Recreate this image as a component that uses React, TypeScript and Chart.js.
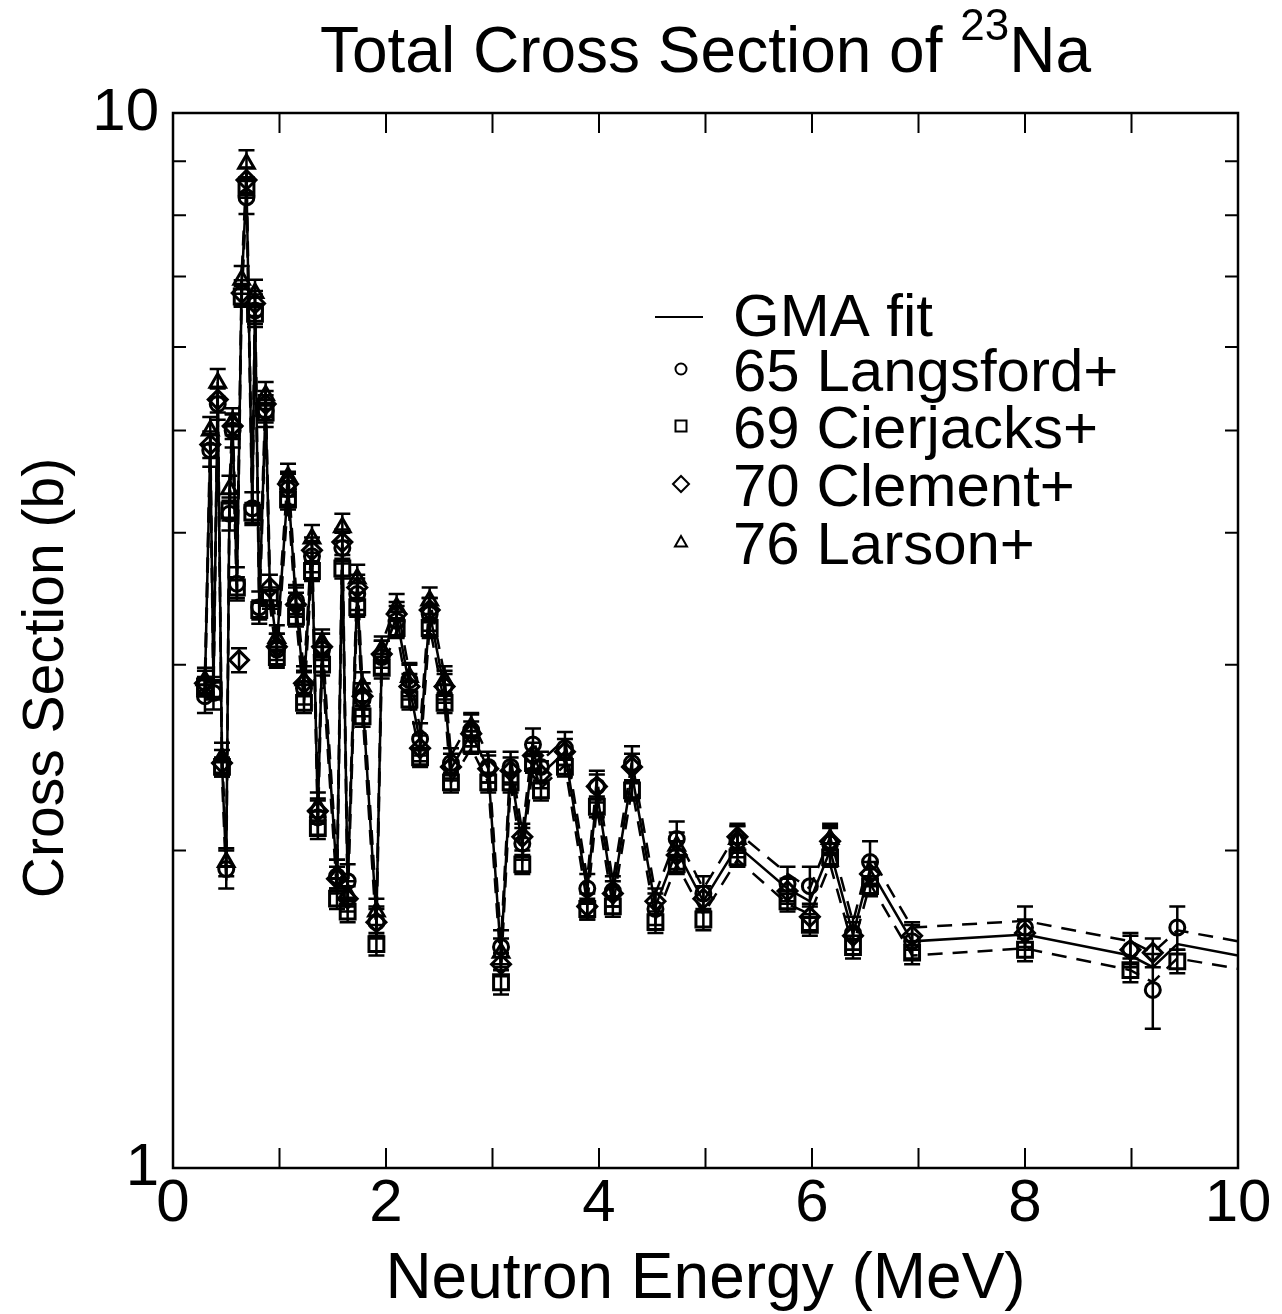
import { useEffect, useRef } from 'react';
import { Chart, registerables } from 'chart.js';

Chart.register(...registerables);

type Pt = [number, number, number]; // [energy MeV, cross section b, uncertainty b]

// GMA evaluation nodes: energy, fitted cross section, upper / lower uncertainty band
const fitEnergy = [
  0.3, 0.35, 0.38, 0.42, 0.46, 0.5, 0.53, 0.56, 0.6, 0.645, 0.69, 0.745, 0.77, 0.81, 0.87, 0.91,
  0.975, 1.08, 1.155, 1.23, 1.305, 1.36, 1.4, 1.54, 1.59, 1.64, 1.73, 1.78, 1.91, 1.96, 2.1, 2.22,
  2.32, 2.41, 2.55, 2.61, 2.8, 2.96, 3.08, 3.17, 3.28, 3.38, 3.455, 3.68, 3.89, 3.98, 4.13, 4.31,
  4.53, 4.73, 4.98, 5.3, 5.77, 5.98, 6.17, 6.385, 6.545, 6.94, 8.0, 8.99, 9.2, 9.43, 10.0,
];
const fitSigma = [
  2.87, 4.85, 2.86, 5.4, 2.42, 1.92, 4.3, 5.05, 3.57, 6.85, 8.6, 4.21, 6.62, 3.42, 5.3, 3.53,
  3.13, 4.44, 3.43, 2.85, 3.85, 2.16, 3.1, 1.88, 3.9, 1.84, 3.53, 2.78, 1.72, 3.05, 3.33, 2.86,
  2.53, 3.36, 2.84, 2.39, 2.58, 2.39, 1.59, 2.38, 2.02, 2.48, 2.36, 2.48, 1.83, 2.27, 1.82, 2.36,
  1.77, 2.0, 1.79, 2.02, 1.84, 1.79, 2.0, 1.665, 1.92, 1.64, 1.665, 1.59, 1.55, 1.63, 1.59,
];
const fitUpper = [
  2.95, 4.99, 2.94, 5.56, 2.49, 1.98, 4.43, 5.2, 3.68, 7.05, 8.86, 4.34, 6.82, 3.52, 5.46, 3.64,
  3.22, 4.57, 3.53, 2.94, 3.97, 2.22, 3.19, 1.94, 4.02, 1.9, 3.64, 2.86, 1.77, 3.14, 3.43, 2.95,
  2.61, 3.46, 2.93, 2.46, 2.66, 2.46, 1.64, 2.45, 2.08, 2.55, 2.43, 2.55, 1.88, 2.34, 1.87, 2.43,
  1.82, 2.06, 1.84, 2.08, 1.9, 1.84, 2.06, 1.71, 1.98, 1.69, 1.715, 1.64, 1.6, 1.68, 1.64,
];
const fitLower = [
  2.79, 4.71, 2.78, 5.24, 2.35, 1.86, 4.17, 4.9, 3.46, 6.65, 8.34, 4.08, 6.42, 3.32, 5.14, 3.42,
  3.04, 4.31, 3.33, 2.76, 3.73, 2.1, 3.01, 1.82, 3.78, 1.78, 3.42, 2.7, 1.67, 2.96, 3.23, 2.77,
  2.45, 3.26, 2.75, 2.32, 2.5, 2.32, 1.54, 2.31, 1.96, 2.41, 2.29, 2.41, 1.78, 2.2, 1.77, 2.29,
  1.72, 1.94, 1.74, 1.96, 1.78, 1.74, 1.94, 1.62, 1.86, 1.59, 1.615, 1.54, 1.5, 1.58, 1.545,
];

const langsford65: Pt[] = [
  [0.3, 2.8, 0.1], [0.35, 4.79, 0.17], [0.38, 2.82, 0.1], [0.42, 5.3, 0.18], [0.5, 1.92, 0.08],
  [0.53, 4.17, 0.15], [0.56, 5.0, 0.18], [0.6, 3.58, 0.13], [0.69, 8.32, 0.3], [0.745, 4.22, 0.15],
  [0.77, 6.5, 0.23], [0.81, 3.4, 0.12], [0.87, 5.22, 0.18], [0.975, 3.1, 0.11], [1.08, 4.4, 0.15],
  [1.155, 3.45, 0.12], [1.23, 2.85, 0.1], [1.305, 3.8, 0.13], [1.36, 2.15, 0.08], [1.4, 3.1, 0.11],
  [1.54, 1.89, 0.07], [1.59, 3.87, 0.13], [1.64, 1.87, 0.07], [1.73, 3.5, 0.12], [1.78, 2.78, 0.1],
  [1.91, 1.71, 0.06], [1.96, 3.05, 0.11], [2.1, 3.3, 0.11], [2.22, 2.9, 0.1], [2.32, 2.55, 0.09],
  [2.41, 3.35, 0.12], [2.55, 2.86, 0.1], [2.61, 2.42, 0.08], [2.8, 2.6, 0.09], [2.96, 2.4, 0.08],
  [3.08, 1.62, 0.06], [3.17, 2.4, 0.08], [3.28, 2.03, 0.07], [3.38, 2.52, 0.09], [3.455, 2.4, 0.08],
  [3.68, 2.5, 0.09], [3.89, 1.84, 0.06], [3.98, 2.3, 0.08], [4.13, 1.83, 0.06], [4.31, 2.42, 0.09],
  [4.53, 1.76, 0.06], [4.73, 2.05, 0.08], [4.98, 1.82, 0.07], [5.3, 2.04, 0.07], [5.77, 1.86, 0.07],
  [5.98, 1.85, 0.08], [6.17, 2.03, 0.09], [6.385, 1.67, 0.06], [6.545, 1.95, 0.09], [6.94, 1.64, 0.06],
  [8.0, 1.69, 0.08], [8.99, 1.61, 0.06], [9.2, 1.475, 0.12], [9.43, 1.69, 0.08],
];

const cierjacks69: Pt[] = [
  [0.3, 2.86, 0.06], [0.38, 2.84, 0.06], [0.46, 2.4, 0.05], [0.53, 4.2, 0.09], [0.6, 3.55, 0.08],
  [0.645, 6.7, 0.15], [0.69, 8.5, 0.19], [0.745, 4.18, 0.09], [0.77, 6.45, 0.14], [0.81, 3.38, 0.07],
  [0.87, 5.2, 0.11], [0.91, 3.47, 0.08], [0.975, 3.05, 0.07], [1.08, 4.3, 0.09], [1.155, 3.33, 0.07],
  [1.23, 2.76, 0.06], [1.305, 3.68, 0.08], [1.36, 2.1, 0.05], [1.4, 3.0, 0.07], [1.54, 1.8, 0.04],
  [1.59, 3.7, 0.08], [1.64, 1.75, 0.04], [1.73, 3.4, 0.07], [1.78, 2.68, 0.06], [1.91, 1.63, 0.04],
  [1.96, 2.98, 0.07], [2.1, 3.25, 0.07], [2.22, 2.78, 0.06], [2.32, 2.45, 0.05], [2.41, 3.25, 0.07],
  [2.55, 2.76, 0.06], [2.61, 2.32, 0.05], [2.8, 2.52, 0.05], [2.96, 2.32, 0.05], [3.08, 1.5, 0.04],
  [3.17, 2.32, 0.05], [3.28, 1.94, 0.04], [3.38, 2.42, 0.05], [3.455, 2.28, 0.05], [3.68, 2.4, 0.05],
  [3.89, 1.76, 0.04], [3.98, 2.2, 0.05], [4.13, 1.77, 0.04], [4.31, 2.28, 0.05], [4.53, 1.71, 0.04],
  [4.73, 1.94, 0.04], [4.98, 1.72, 0.04], [5.3, 1.97, 0.04], [5.77, 1.79, 0.04], [5.98, 1.7, 0.04],
  [6.17, 1.97, 0.04], [6.385, 1.62, 0.04], [6.545, 1.85, 0.04], [6.94, 1.6, 0.04], [8.0, 1.61, 0.04],
  [8.99, 1.54, 0.04], [9.43, 1.57, 0.04],
];

const clement70: Pt[] = [
  [0.3, 2.88, 0.08], [0.35, 4.85, 0.14], [0.42, 5.35, 0.15], [0.46, 2.42, 0.07], [0.56, 5.05, 0.14],
  [0.62, 3.03, 0.08], [0.645, 6.75, 0.19], [0.69, 8.64, 0.24], [0.77, 6.6, 0.18], [0.87, 5.3, 0.15],
  [0.91, 3.55, 0.1], [0.975, 3.12, 0.09], [1.08, 4.45, 0.12], [1.155, 3.42, 0.09], [1.23, 2.88, 0.08],
  [1.305, 3.85, 0.11], [1.36, 2.18, 0.06], [1.4, 3.12, 0.09], [1.54, 1.88, 0.05], [1.59, 3.92, 0.11],
  [1.64, 1.8, 0.05], [1.73, 3.55, 0.1], [1.78, 2.8, 0.08], [1.91, 1.71, 0.05], [1.96, 3.07, 0.09],
  [2.1, 3.35, 0.09], [2.22, 2.86, 0.08], [2.32, 2.5, 0.07], [2.41, 3.38, 0.09], [2.55, 2.86, 0.08],
  [2.61, 2.4, 0.07], [2.8, 2.58, 0.07], [2.96, 2.39, 0.07], [3.08, 1.56, 0.04], [3.17, 2.38, 0.07],
  [3.28, 2.06, 0.06], [3.38, 2.46, 0.07], [3.455, 2.36, 0.07], [3.68, 2.48, 0.07], [3.89, 1.77, 0.05],
  [3.98, 2.3, 0.06], [4.13, 1.82, 0.05], [4.31, 2.4, 0.07], [4.53, 1.79, 0.05], [4.73, 1.98, 0.06],
  [4.98, 1.8, 0.05], [5.3, 2.06, 0.06], [5.77, 1.83, 0.05], [5.98, 1.73, 0.05], [6.17, 2.04, 0.06],
  [6.385, 1.66, 0.05], [6.545, 1.9, 0.05], [6.94, 1.66, 0.05], [8.0, 1.67, 0.05], [8.99, 1.61, 0.05],
  [9.2, 1.6, 0.05],
];

const larson76: Pt[] = [
  [0.3, 2.9, 0.08], [0.35, 5.0, 0.15], [0.42, 5.55, 0.17], [0.46, 2.45, 0.08], [0.5, 1.95, 0.06],
  [0.53, 4.4, 0.13], [0.56, 5.1, 0.15], [0.645, 6.95, 0.21], [0.69, 8.95, 0.27], [0.77, 6.75, 0.2],
  [0.87, 5.4, 0.16], [0.975, 3.18, 0.09], [1.08, 4.52, 0.13], [1.155, 3.45, 0.1], [1.23, 2.9, 0.09],
  [1.305, 3.95, 0.12], [1.36, 2.2, 0.07], [1.4, 3.15, 0.09], [1.54, 1.9, 0.06], [1.59, 4.05, 0.12],
  [1.64, 1.82, 0.05], [1.73, 3.62, 0.11], [1.78, 2.86, 0.09], [1.91, 1.75, 0.05], [1.96, 3.1, 0.09],
  [2.1, 3.4, 0.1], [2.22, 2.92, 0.09], [2.41, 3.45, 0.1], [2.55, 2.9, 0.09], [2.8, 2.62, 0.08],
  [3.08, 1.6, 0.05], [4.73, 2.02, 0.06], [5.3, 2.05, 0.06], [6.17, 2.05, 0.06],
];

// Axis ticks
const xTickValues = [0, 1, 2, 3, 4, 5, 6, 7, 8, 9, 10];
const xLabelValues = [0, 2, 4, 6, 8, 10];
const yMinorValues = [2, 3, 4, 5, 6, 7, 8, 9];
const yLabelValues = [1, 10];

const titleText = 'Total Cross Section of ';
const titleSup = '23';
const titleNuclide = 'Na';
const xTitle = 'Neutron Energy (MeV)';
const yTitle = 'Cross Section (b)';
const fitLabel = 'GMA fit';

const FONT = '"Liberation Sans", Arial, Helvetica, sans-serif';

const experiments = [
  { label: '65 Langsford+', data: langsford65, style: 'circle', radius: 7.5 },
  { label: '69 Cierjacks+', data: cierjacks69, style: 'rect', radius: 10.5 },
  { label: '70 Clement+', data: clement70, style: 'rectRot', radius: 9.5 },
  { label: '76 Larson+', data: larson76, style: 'triangle', radius: 9 },
];

function drawLegendMarker(ctx: CanvasRenderingContext2D, style: string, x: number, y: number) {
  ctx.beginPath();
  if (style === 'circle') {
    ctx.arc(x, y, 5.5, 0, Math.PI * 2);
  } else if (style === 'rect') {
    ctx.rect(x - 5.5, y - 5.5, 11, 11);
  } else if (style === 'rectRot') {
    ctx.moveTo(x - 8, y);
    ctx.lineTo(x, y - 8);
    ctx.lineTo(x + 8, y);
    ctx.lineTo(x, y + 8);
    ctx.closePath();
  } else {
    ctx.moveTo(x, y - 6);
    ctx.lineTo(x + 6, y + 4.5);
    ctx.lineTo(x - 6, y + 4.5);
    ctx.closePath();
  }
  ctx.stroke();
}

const decorPlugin = {
  id: 'decor',
  afterDatasetsDraw(chart: any) {
    const { ctx } = chart;
    const xs = chart.scales.x;
    const ys = chart.scales.y;
    ctx.save();
    ctx.strokeStyle = '#000';
    ctx.lineWidth = 2.5;
    chart.data.datasets.forEach((ds: any) => {
      const errs: number[] | undefined = ds.errors;
      if (!errs) return;
      ds.data.forEach((p: any, j: number) => {
        const x = xs.getPixelForValue(p.x);
        const y1 = ys.getPixelForValue(p.y - errs[j]);
        const y2 = ys.getPixelForValue(p.y + errs[j]);
        ctx.beginPath();
        ctx.moveTo(x, y1);
        ctx.lineTo(x, y2);
        ctx.moveTo(x - 8, y1);
        ctx.lineTo(x + 8, y1);
        ctx.moveTo(x - 8, y2);
        ctx.lineTo(x + 8, y2);
        ctx.stroke();
      });
    });
    ctx.restore();
  },
  afterDraw(chart: any) {
    const { ctx, chartArea } = chart;
    const { left, right, top, bottom } = chartArea;
    const xs = chart.scales.x;
    const ys = chart.scales.y;
    ctx.save();
    ctx.strokeStyle = '#000';
    ctx.fillStyle = '#000';

    // frame
    ctx.lineWidth = 2.5;
    ctx.strokeRect(left, top, right - left, bottom - top);

    // inward ticks
    ctx.lineWidth = 2;
    ctx.beginPath();
    xTickValues.forEach((v) => {
      const x = xs.getPixelForValue(v);
      ctx.moveTo(x, bottom);
      ctx.lineTo(x, bottom - 20);
      ctx.moveTo(x, top);
      ctx.lineTo(x, top + 20);
    });
    yMinorValues.forEach((v) => {
      const y = ys.getPixelForValue(v);
      ctx.moveTo(left, y);
      ctx.lineTo(left + 13, y);
      ctx.moveTo(right, y);
      ctx.lineTo(right - 13, y);
    });
    ctx.stroke();

    // title with superscript mass number
    const cx = (left + right) / 2;
    ctx.textBaseline = 'alphabetic';
    ctx.textAlign = 'left';
    const bigFont = `64px ${FONT}`;
    const supFont = `44px ${FONT}`;
    ctx.font = bigFont;
    const w1 = ctx.measureText(titleText).width;
    const w3 = ctx.measureText(titleNuclide).width;
    ctx.font = supFont;
    const w2 = ctx.measureText(titleSup).width;
    let tx = cx - (w1 + w2 + w3) / 2;
    ctx.font = bigFont;
    ctx.fillText(titleText, tx, 72);
    tx += w1;
    ctx.font = supFont;
    ctx.fillText(titleSup, tx, 40);
    tx += w2;
    ctx.font = bigFont;
    ctx.fillText(titleNuclide, tx, 72);

    // axis titles
    ctx.textAlign = 'center';
    ctx.font = `64px ${FONT}`;
    ctx.fillText(xTitle, cx, 1298);
    ctx.save();
    ctx.translate(63, 678);
    ctx.rotate(-Math.PI / 2);
    ctx.font = `57px ${FONT}`;
    ctx.fillText(yTitle, 0, 0);
    ctx.restore();

    // legend
    ctx.textAlign = 'left';
    ctx.font = `60px ${FONT}`;
    const rows = [315, 370, 427, 485, 543];
    ctx.lineWidth = 2;
    ctx.beginPath();
    ctx.moveTo(655, rows[0] + 2);
    ctx.lineTo(703, rows[0] + 2);
    ctx.stroke();
    ctx.fillText(fitLabel, 733, rows[0] + 21);
    experiments.forEach((e, i) => {
      drawLegendMarker(ctx, e.style, 681, rows[i + 1] - 1);
      ctx.fillText(e.label, 733, rows[i + 1] + 21);
    });
    ctx.restore();
  },
};

export default function App() {
  const canvasRef = useRef<HTMLCanvasElement | null>(null);

  useEffect(() => {
    const canvas = canvasRef.current;
    if (!canvas) return;

    const fitLine = (vals: number[]) => fitEnergy.map((e, i) => ({ x: e, y: vals[i] }));

    const datasets: any[] = [
      {
        label: fitLabel,
        data: fitLine(fitSigma),
        showLine: true,
        borderColor: '#000',
        borderWidth: 2.5,
        pointRadius: 0,
        tension: 0,
      },
      {
        label: 'upper',
        data: fitLine(fitUpper),
        showLine: true,
        borderColor: '#000',
        borderWidth: 2.5,
        borderDash: [15, 10],
        pointRadius: 0,
      },
      {
        label: 'lower',
        data: fitLine(fitLower),
        showLine: true,
        borderColor: '#000',
        borderWidth: 2.5,
        borderDash: [15, 10],
        pointRadius: 0,
      },
      ...experiments.map((e) => ({
        label: e.label,
        data: e.data.map((p) => ({ x: p[0], y: p[1] })),
        errors: e.data.map((p) => p[2]),
        showLine: false,
        pointStyle: e.style,
        pointRadius: e.radius,
        pointBorderWidth: 3,
        pointBorderColor: '#000',
        pointBackgroundColor: 'rgba(255,255,255,0)',
        borderColor: '#000',
        backgroundColor: 'rgba(255,255,255,0)',
      })),
    ];

    const chart = new Chart(canvas, {
      type: 'scatter',
      data: { datasets },
      options: {
        responsive: false,
        animation: false,
        events: [],
        layout: { padding: { left: 53, right: 44, top: 113, bottom: 46 } },
        plugins: {
          legend: { display: false },
          tooltip: { enabled: false },
          title: { display: false },
        },
        scales: {
          x: {
            type: 'linear',
            min: 0,
            max: 10,
            grid: { display: false, drawTicks: false },
            border: { display: false },
            afterFit: (s: any) => {
              s.height = 100;
            },
            afterBuildTicks: (s: any) => {
              s.ticks = xTickValues.map((v) => ({ value: v }));
            },
            ticks: {
              autoSkip: false,
              maxRotation: 0,
              padding: 0,
              color: '#000',
              font: { size: 60, family: FONT },
              callback: (v: any) => (xLabelValues.includes(Number(v)) ? String(v) : ''),
            },
          },
          y: {
            type: 'logarithmic',
            min: 1,
            max: 10,
            grid: { display: false, drawTicks: false },
            border: { display: false },
            afterFit: (s: any) => {
              s.width = 120;
            },
            afterBuildTicks: (s: any) => {
              s.ticks = [1, ...yMinorValues, 10].map((v) => ({ value: v }));
            },
            ticks: {
              autoSkip: false,
              padding: 14,
              color: '#000',
              font: { size: 60, family: FONT },
              callback: (v: any) => (yLabelValues.includes(Number(v)) ? String(v) : ''),
            },
          },
        },
      } as any,
      plugins: [decorPlugin],
    });

    return () => chart.destroy();
  }, []);

  return (
    <div style={{ position: 'absolute', left: 0, top: 0, width: 1282, height: 1314, background: '#fff' }}>
      <canvas ref={canvasRef} width={1282} height={1314} />
    </div>
  );
}
